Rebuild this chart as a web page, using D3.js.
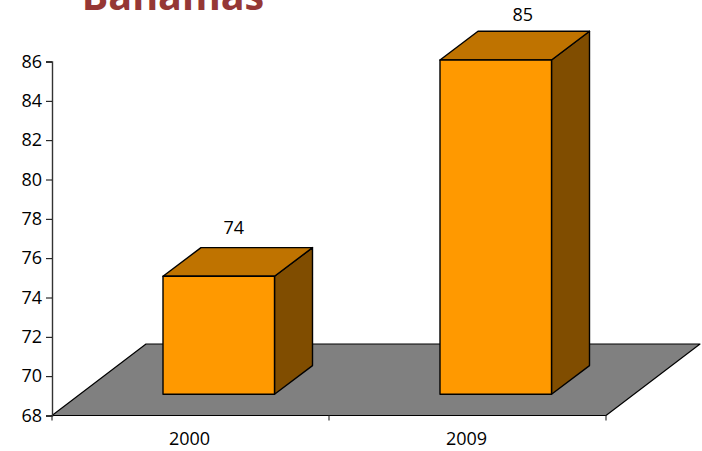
<!DOCTYPE html>
<html><head><meta charset="utf-8">
<script src="https://cdn.jsdelivr.net/npm/d3@7"></script>
<style>html,body{margin:0;padding:0;background:#fff;overflow:hidden}svg{display:block}
text{font-family:"Open Sans",sans-serif;fill:#000}</style></head><body>
<script>
const title = "Bahamas";
const categories = ["2000","2009"];
const values = [74,85];
const yTicks = [68,70,72,74,76,78,80,82,84,86];
const yDomain = [68,86];
const labelShift = [[-4,-2],[8,2]];

const W=702,H=451;
const svg=d3.select("body").append("svg").attr("width",W).attr("height",H);
const x=d3.scaleBand().domain(categories).range([52,606]);
const y=d3.scaleLinear().domain(yDomain).range([415.5,61.5]);
// oblique projection
const floorD=[94,-71.5], front=[28.25,-21.2], depth=[38,-28.7], barW=111.5;
const line=p=>"M"+p.map(a=>a.join(",")).join("L")+"Z";
const y0=y(yDomain[0]), xL=x.range()[0], xR=x.range()[1];

svg.append("path").attr("d",line([[xL,y0],[xR,y0],[xR+floorD[0],y0+floorD[1]],[xL+floorD[0],y0+floorD[1]]]))
  .attr("fill","#808080").attr("stroke","#000").attr("stroke-width",1.2).attr("stroke-linejoin","round");

const bars=svg.selectAll("g.bar").data(categories.map((c,i)=>({c,v:values[i],i}))).join("g").attr("class","bar");
const geo=d=>{const cx=x(d.c)+x.bandwidth()/2+front[0],l=cx-barW/2,r=cx+barW/2,b=y0+front[1],t=y(d.v)+front[1];return{l,r,b,t}};
const sty=s=>s.attr("stroke","#000").attr("stroke-width",1.4).attr("stroke-linejoin","round");
bars.append("path").attr("d",d=>{const g=geo(d);return line([[g.r,g.t],[g.r+depth[0],g.t+depth[1]],[g.r+depth[0],g.b+depth[1]],[g.r,g.b]])}).attr("fill","#804d00").call(sty);
bars.append("path").attr("d",d=>{const g=geo(d);return line([[g.l,g.t],[g.r,g.t],[g.r+depth[0],g.t+depth[1]],[g.l+depth[0],g.t+depth[1]]])}).attr("fill","#bf7300").call(sty);
bars.append("path").attr("d",d=>{const g=geo(d);return line([[g.l,g.t],[g.r,g.t],[g.r,g.b],[g.l,g.b]])}).attr("fill","#ff9900").call(sty);
bars.append("text").attr("x",d=>{const g=geo(d);return (g.l+g.r)/2+depth[0]/2+labelShift[d.i][0]}).attr("y",d=>geo(d).t+depth[1]-12+labelShift[d.i][1])
  .attr("text-anchor","middle").style("font-size","18px").text(d=>d.v);

const ya=svg.append("g").attr("transform",`translate(${xL},0)`).call(d3.axisLeft(y).tickValues(yTicks).tickSize(6).tickPadding(4).tickFormat(d3.format("d")));
ya.selectAll("text").style("font-size","18px");
ya.select(".domain").attr("stroke","#333").attr("stroke-width",1.4);
const xa=svg.append("g").attr("transform",`translate(0,${y0})`).call(d3.axisBottom(x).tickSize(0).tickPadding(16.5));
xa.select(".domain").remove();
xa.selectAll("text").style("font-size","18px").attr("dx","-1");
xa.selectAll(".sep").data(d3.range(categories.length+1)).join("line").attr("class","sep")
  .attr("x1",i=>xL+i*x.step()).attr("x2",i=>xL+i*x.step()).attr("y1",0).attr("y2",5).attr("stroke","#333").attr("stroke-width",1.2);
svg.append("text").attr("x",173).attr("y",10).attr("text-anchor","middle").style("font-size","39.5px").style("font-weight","700").style("fill","#953735").text(title);
</script></body></html>
